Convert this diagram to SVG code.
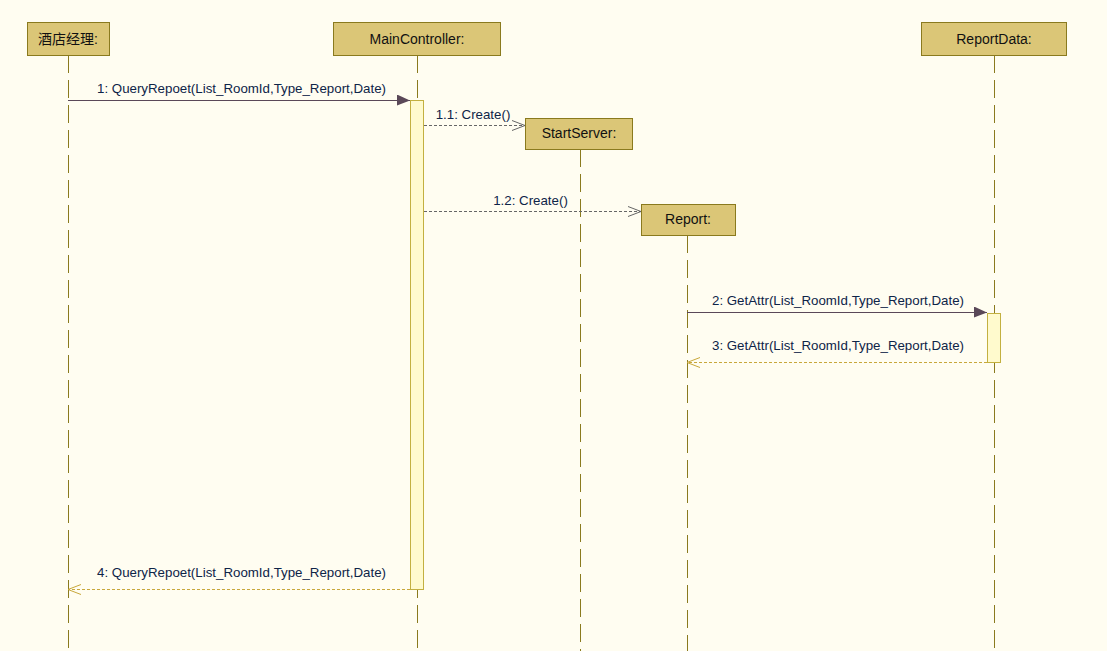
<svg xmlns="http://www.w3.org/2000/svg" width="1107" height="651" viewBox="0 0 1107 651">
<defs>
<style>
.box{fill:#DBC677;stroke:#8A7A1E;stroke-width:1}
.bt{font-family:"Liberation Sans","Noto Sans CJK SC",sans-serif;font-size:14px;fill:#111;text-anchor:middle}
.life{stroke:#8A7A1E;stroke-width:1;stroke-dasharray:18 7;fill:none}
.act{fill:#FFFACD;stroke:#C3B040;stroke-width:1}
.msg{stroke:#5A4858;stroke-width:1;fill:none}
.crt{stroke:#666;stroke-width:1;stroke-dasharray:3 2;fill:none}
.ret{stroke:#C8A73A;stroke-width:1;stroke-dasharray:3 2;fill:none}
.lbl{font-family:"Liberation Sans","Noto Sans CJK SC",sans-serif;font-size:13.3px;fill:#0E2448;text-anchor:middle}
</style>
<marker id="fill" markerWidth="14" markerHeight="12" refX="13" refY="6" orient="auto" markerUnits="userSpaceOnUse">
<path d="M0,0 L13,6 L0,11 Z" fill="#5A4858"/>
</marker>
<marker id="openg" markerWidth="14" markerHeight="12" refX="13" refY="6" orient="auto" markerUnits="userSpaceOnUse">
<path d="M0,1 L13,6 L0,11" fill="none" stroke="#666" stroke-width="1"/>
</marker>
<marker id="openy" markerWidth="14" markerHeight="12" refX="13" refY="6" orient="auto" markerUnits="userSpaceOnUse">
<path d="M0,1 L13,6 L0,11" fill="none" stroke="#C8A73A" stroke-width="1"/>
</marker>
</defs>
<rect width="1107" height="651" fill="#FFFDF1"/>

<g id="manager">
<line class="life" x1="68.5" y1="55" x2="68.5" y2="651"/>
<rect class="box" x="27.5" y="22.5" width="82" height="33"/>
<text class="bt" x="68" y="44">酒店经理:</text>
</g>

<g id="maincontroller">
<line class="life" x1="417.5" y1="55" x2="417.5" y2="651"/>
<rect class="box" x="333.5" y="22.5" width="167" height="33"/>
<text class="bt" x="417" y="44">MainController:</text>
<rect class="act" x="410.5" y="100.5" width="13" height="489"/>
</g>

<g id="startserver">
<line class="life" x1="580.5" y1="149" x2="580.5" y2="651"/>
<rect class="box" x="525.5" y="118.5" width="107" height="31"/>
<text class="bt" x="579" y="138">StartServer:</text>
</g>

<g id="report">
<line class="life" x1="687.5" y1="235" x2="687.5" y2="651"/>
<rect class="box" x="641.5" y="204.5" width="94" height="31"/>
<text class="bt" x="688" y="224">Report:</text>
</g>

<g id="reportdata">
<line class="life" x1="994.5" y1="55" x2="994.5" y2="651"/>
<rect class="box" x="921.5" y="22.5" width="145" height="33"/>
<text class="bt" x="994" y="44">ReportData:</text>
<rect class="act" x="987.5" y="313.5" width="13" height="49"/>
</g>

<g id="connectors">
<line class="msg" x1="68" y1="100.5" x2="410" y2="100.5" marker-end="url(#fill)"/>
<text class="lbl" x="241.5" y="93">1: QueryRepoet(List_RoomId,Type_Report,Date)</text>

<line class="crt" x1="424" y1="125.5" x2="525" y2="125.5" marker-end="url(#openg)"/>
<text class="lbl" x="473" y="119">1.1: Create()</text>

<line class="crt" x1="424" y1="211.5" x2="641" y2="211.5" marker-end="url(#openg)"/>
<text class="lbl" x="530.5" y="205">1.2: Create()</text>

<line class="msg" x1="687" y1="312.5" x2="987" y2="312.5" marker-end="url(#fill)"/>
<text class="lbl" x="838" y="305">2: GetAttr(List_RoomId,Type_Report,Date)</text>

<line class="ret" x1="987" y1="362.5" x2="687" y2="362.5" marker-end="url(#openy)"/>
<text class="lbl" x="838" y="350">3: GetAttr(List_RoomId,Type_Report,Date)</text>

<line class="ret" x1="410" y1="589.5" x2="68" y2="589.5" marker-end="url(#openy)"/>
<text class="lbl" x="241.5" y="577">4: QueryRepoet(List_RoomId,Type_Report,Date)</text>
</g>
</svg>
